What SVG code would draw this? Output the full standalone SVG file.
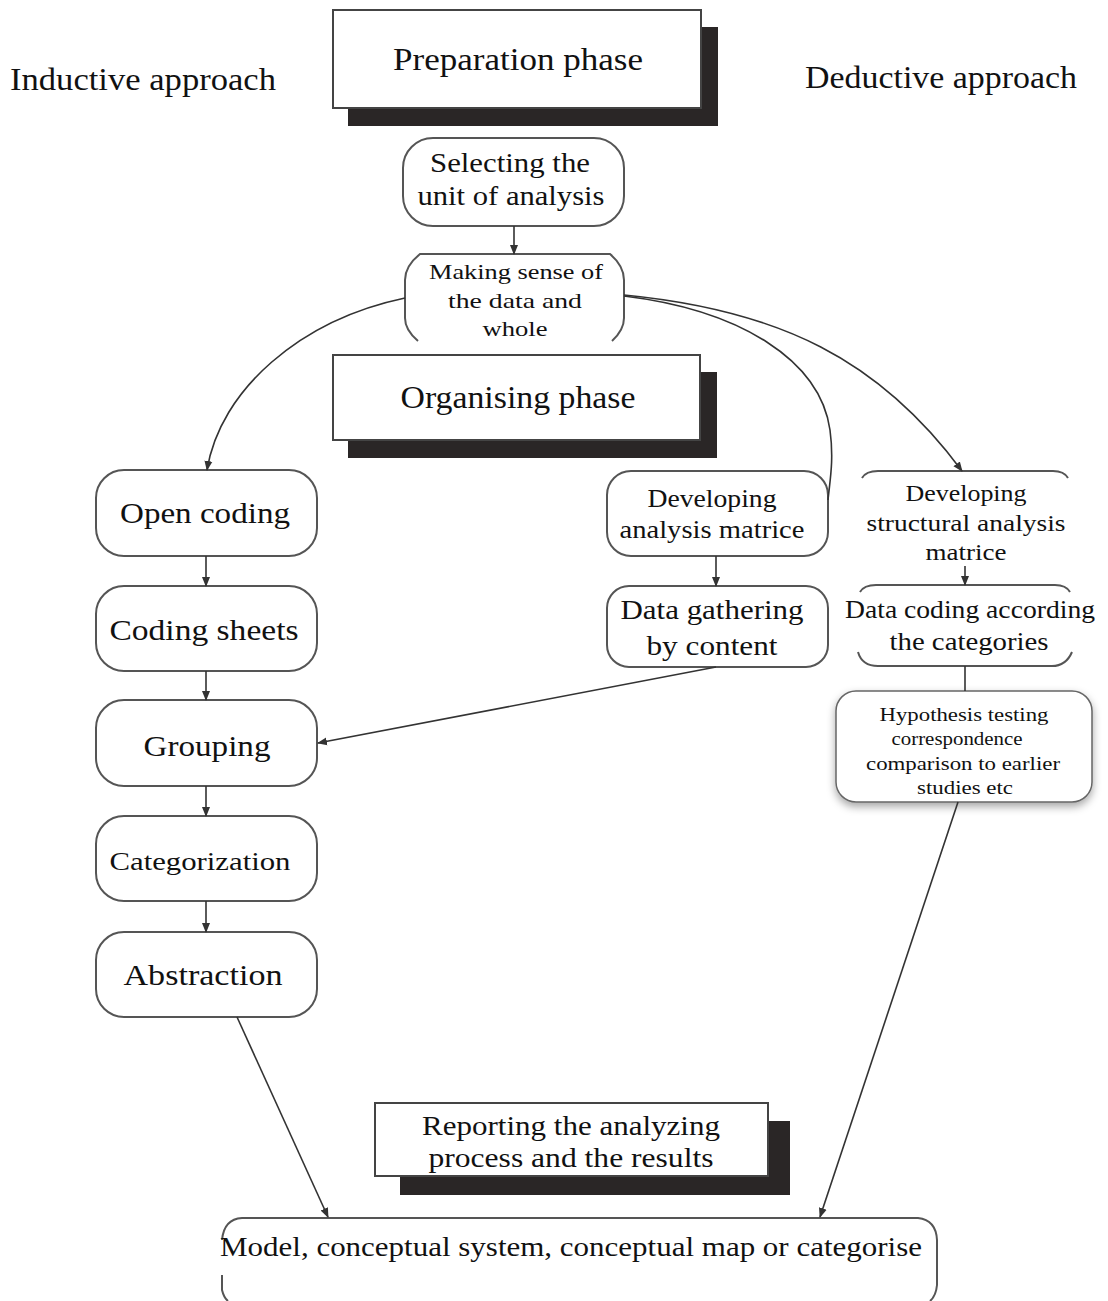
<svg xmlns="http://www.w3.org/2000/svg" width="1108" height="1301" viewBox="0 0 1108 1301">
<defs>
<marker id="arr" markerWidth="10" markerHeight="10" refX="9" refY="5" orient="auto" markerUnits="userSpaceOnUse">
<path d="M0,1 L10,5 L0,9 Z" fill="#333"/>
</marker>
<filter id="sh" x="-20%" y="-20%" width="140%" height="150%">
<feDropShadow dx="0" dy="4" stdDeviation="4" flood-color="#000" flood-opacity="0.35"/>
</filter>
</defs>
<style>
text{font-family:"Liberation Serif","DejaVu Serif",serif;fill:#111;text-anchor:middle}
.node{fill:#fff;stroke:#555;stroke-width:2}
.open{fill:none;stroke:#555;stroke-width:2}
.phase{fill:#fff;stroke:#444;stroke-width:2}
.shadow{fill:#2a2626}
.con{fill:none;stroke:#333;stroke-width:1.6}
</style>
<rect width="1108" height="1301" fill="#fff"/>

<text x="143" y="90" font-size="31" textLength="266" lengthAdjust="spacingAndGlyphs">Inductive approach</text>
<text x="941" y="88" font-size="31" textLength="272" lengthAdjust="spacingAndGlyphs">Deductive approach</text>

<g id="preparation">
<rect class="shadow" x="348" y="27" width="370" height="99"/>
<rect class="phase" x="333" y="10" width="368" height="98"/>
<text x="518" y="70" font-size="32" textLength="250" lengthAdjust="spacingAndGlyphs">Preparation phase</text>
</g>

<g id="selecting">
<rect class="node" x="403" y="138" width="221" height="88" rx="30"/>
<text x="510" y="172" font-size="27" textLength="160" lengthAdjust="spacingAndGlyphs">Selecting the</text>
<text x="511" y="205" font-size="27" textLength="187" lengthAdjust="spacingAndGlyphs">unit of analysis</text>
</g>

<g id="making-sense">
<path class="open" d="M418,341 Q405,330 405,318 L405,280 Q405,266 420,254 L610,254 Q624,266 624,280 L624,318 Q624,330 612,341"/>
<text x="516" y="279" font-size="22" textLength="174" lengthAdjust="spacingAndGlyphs">Making sense of</text>
<text x="515" y="308" font-size="22" textLength="134" lengthAdjust="spacingAndGlyphs">the data and</text>
<text x="515" y="336" font-size="22" textLength="65" lengthAdjust="spacingAndGlyphs">whole</text>
</g>

<g id="organising">
<rect class="shadow" x="348" y="372" width="369" height="86"/>
<rect class="phase" x="333" y="355" width="367" height="85"/>
<text x="518" y="408" font-size="32" textLength="235" lengthAdjust="spacingAndGlyphs">Organising phase</text>
</g>

<g id="open-coding">
<rect class="node" x="96" y="470" width="221" height="86" rx="28"/>
<text x="205" y="523" font-size="30" textLength="170" lengthAdjust="spacingAndGlyphs">Open coding</text>
</g>
<g id="coding-sheets">
<rect class="node" x="96" y="586" width="221" height="85" rx="28"/>
<text x="204" y="640" font-size="30" textLength="189" lengthAdjust="spacingAndGlyphs">Coding sheets</text>
</g>
<g id="grouping">
<rect class="node" x="96" y="700" width="221" height="86" rx="28"/>
<text x="207" y="756" font-size="30" textLength="127" lengthAdjust="spacingAndGlyphs">Grouping</text>
</g>
<g id="categorization">
<rect class="node" x="96" y="816" width="221" height="85" rx="28"/>
<text x="200" y="870" font-size="26" textLength="181" lengthAdjust="spacingAndGlyphs">Categorization</text>
</g>
<g id="abstraction">
<rect class="node" x="96" y="932" width="221" height="85" rx="28"/>
<text x="203" y="985" font-size="30" textLength="159" lengthAdjust="spacingAndGlyphs">Abstraction</text>
</g>

<g id="dev-analysis">
<rect class="node" x="607" y="471" width="221" height="85" rx="24"/>
<text x="712" y="507" font-size="25" textLength="129" lengthAdjust="spacingAndGlyphs">Developing</text>
<text x="712" y="538" font-size="25" textLength="185" lengthAdjust="spacingAndGlyphs">analysis matrice</text>
</g>
<g id="data-gathering">
<rect class="node" x="607" y="586" width="221" height="81" rx="22"/>
<text x="712" y="619" font-size="28" textLength="183" lengthAdjust="spacingAndGlyphs">Data gathering</text>
<text x="712" y="655" font-size="28" textLength="131" lengthAdjust="spacingAndGlyphs">by content</text>
</g>

<g id="dev-structural">
<path class="open" d="M862,478 Q866,471 878,471 L1053,471 Q1064,471 1068,478"/>
<text x="966" y="501" font-size="23" textLength="121" lengthAdjust="spacingAndGlyphs">Developing</text>
<text x="966" y="531" font-size="23" textLength="199" lengthAdjust="spacingAndGlyphs">structural analysis</text>
<text x="966" y="560" font-size="23" textLength="81" lengthAdjust="spacingAndGlyphs">matrice</text>
</g>
<g id="data-coding">
<path class="open" d="M860,592 Q864,585 876,585 L1055,585 Q1066,585 1070,592"/>
<path class="open" d="M858,652 Q862,666 878,666 L1052,666 Q1066,666 1072,652"/>
<text x="970" y="618" font-size="25" textLength="250" lengthAdjust="spacingAndGlyphs">Data coding according</text>
<text x="969" y="650" font-size="25" textLength="159" lengthAdjust="spacingAndGlyphs">the categories</text>
</g>
<g id="hypothesis">
<rect x="836" y="691" width="256" height="111" rx="20" fill="#fff" stroke="#666" stroke-width="1.5" filter="url(#sh)"/>
<text x="964" y="721" font-size="19" textLength="169" lengthAdjust="spacingAndGlyphs">Hypothesis testing</text>
<text x="957" y="745" font-size="19" textLength="131" lengthAdjust="spacingAndGlyphs">correspondence</text>
<text x="963" y="770" font-size="19" textLength="194" lengthAdjust="spacingAndGlyphs">comparison to earlier</text>
<text x="965" y="794" font-size="19" textLength="96" lengthAdjust="spacingAndGlyphs">studies etc</text>
</g>

<g id="reporting">
<rect class="shadow" x="400" y="1121" width="390" height="74"/>
<rect class="phase" x="375" y="1103" width="393" height="73"/>
<text x="571" y="1135" font-size="27" textLength="298" lengthAdjust="spacingAndGlyphs">Reporting the analyzing</text>
<text x="571" y="1167" font-size="27" textLength="285" lengthAdjust="spacingAndGlyphs">process and the results</text>
</g>

<g id="model">
<path class="open" d="M222,1240 Q224,1219 242,1218 L918,1218 Q936,1220 937,1240 L937,1285 Q936,1296 930,1301"/>
<path class="open" d="M222,1275 L222,1290 Q224,1298 228,1301"/>
<text x="571" y="1256" font-size="28" textLength="702" lengthAdjust="spacingAndGlyphs">Model, conceptual system, conceptual map or categorise</text>
</g>

<g id="connectors">
<line class="con" x1="514" y1="226" x2="514" y2="254" marker-end="url(#arr)"/>
<path class="con" d="M405,298 C300,320 220,390 207,470" marker-end="url(#arr)"/>
<path class="con" d="M624,296 C740,310 820,360 830,430 C834,460 830,480 828,500"/>
<path class="con" d="M624,295 C780,310 880,360 962,471" marker-end="url(#arr)"/>
<line class="con" x1="206" y1="556" x2="206" y2="586" marker-end="url(#arr)"/>
<line class="con" x1="206" y1="671" x2="206" y2="700" marker-end="url(#arr)"/>
<line class="con" x1="206" y1="786" x2="206" y2="816" marker-end="url(#arr)"/>
<line class="con" x1="206" y1="901" x2="206" y2="932" marker-end="url(#arr)"/>
<line class="con" x1="716" y1="556" x2="716" y2="586" marker-end="url(#arr)"/>
<line class="con" x1="965" y1="566" x2="965" y2="585" marker-end="url(#arr)"/>
<line class="con" x1="716" y1="667" x2="318" y2="743" marker-end="url(#arr)"/>
<line class="con" x1="965" y1="666" x2="965" y2="691"/>
<line class="con" x1="237" y1="1017" x2="328" y2="1217" marker-end="url(#arr)"/>
<line class="con" x1="958" y1="802" x2="820" y2="1217" marker-end="url(#arr)"/>
</g>
</svg>
